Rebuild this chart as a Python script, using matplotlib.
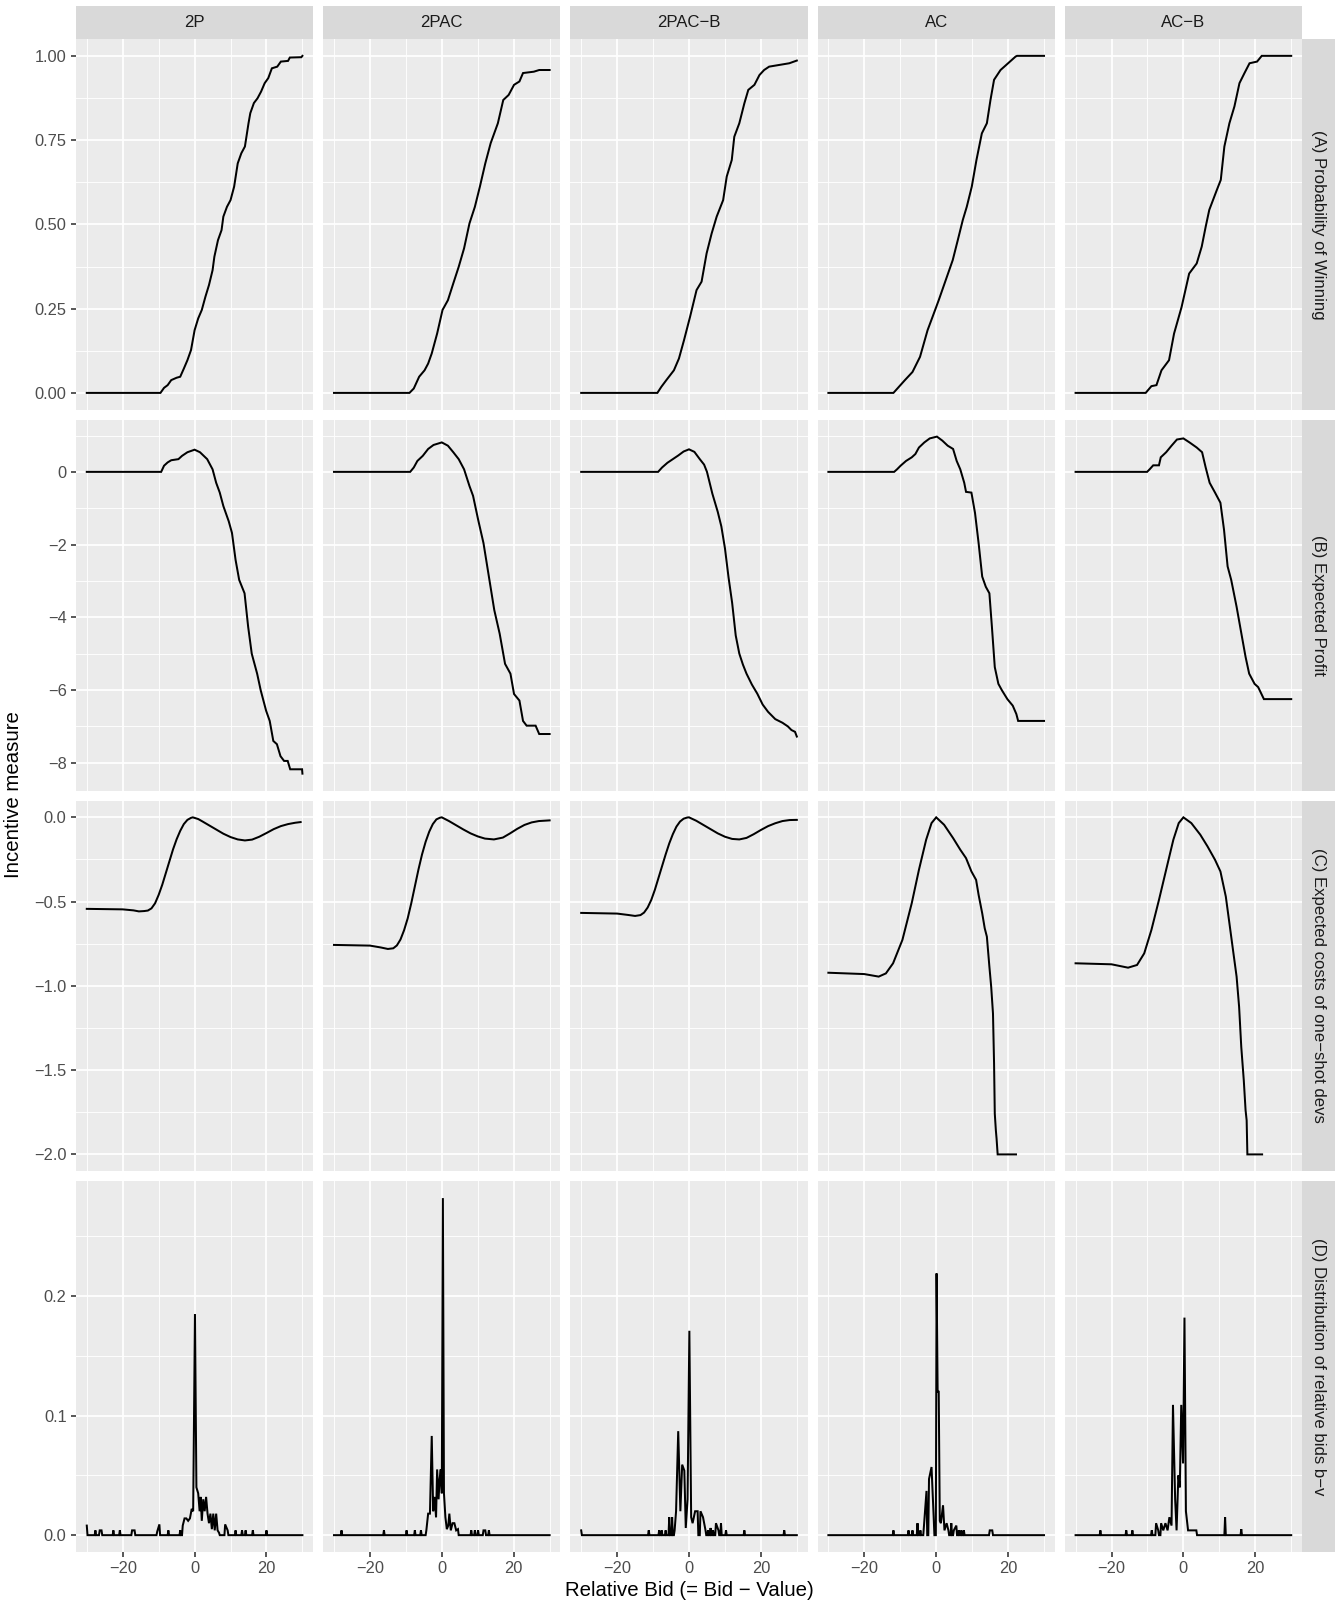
import numpy as np
import matplotlib
matplotlib.use('Agg')
import matplotlib.pyplot as plt
from matplotlib.ticker import FixedLocator, FuncFormatter

plt.rcParams['font.family'] = ['Liberation Sans', 'DejaVu Sans']

mechanisms = ['2P', '2PAC', '2PAC\u2212B', 'AC', 'AC\u2212B']
measures = ['(A) Probability of Winning', '(B) Expected Profit',
            '(C) Expected costs of one\u2212shot devs',
            '(D) Distribution of relative bids b\u2212v']

# (A) probability of winning
a_2p_x = [-30, -9.5, -8.5, -7.5, -6.5, -5, -4, -3, -2, -1, 0, 1, 2, 3, 4, 5, 5.5, 6.5, 7.5, 8,
          9, 10, 11, 12, 13, 14, 15, 15.5, 16.5, 17.5, 18.5, 19.5, 20.5, 21.5, 23, 24, 26, 26.5, 29.7, 30]
a_2p_y = [0, 0, 0.015, 0.023, 0.038, 0.045, 0.048, 0.072, 0.097, 0.127, 0.186, 0.221, 0.246, 0.285,
          0.32, 0.364, 0.404, 0.453, 0.483, 0.523, 0.552, 0.572, 0.612, 0.681, 0.711, 0.731, 0.80, 0.83,
          0.86, 0.874, 0.894, 0.919, 0.934, 0.963, 0.968, 0.983, 0.985, 0.995, 0.996, 1.0]
a_2pac_x = [-30, -9.0, -7.8, -6.3, -4.8, -3.8, -2.8, -1.3, 0.2, 1.7, 3.2, 4.7, 6.2, 7.7, 9.2, 10.6,
            12.1, 13.6, 15.6, 17.1, 18.6, 20.1, 21.6, 22.6, 25.6, 27.1, 30]
a_2pac_y = [0, 0, 0.013, 0.048, 0.067, 0.087, 0.117, 0.176, 0.246, 0.275, 0.325, 0.374, 0.429, 0.503,
            0.552, 0.612, 0.681, 0.741, 0.80, 0.869, 0.884, 0.914, 0.924, 0.949, 0.953, 0.958, 0.958]
a_2pacb_x = [-30, -8.8, -7.7, -6.3, -4.2, -2.8, -1.4, 0.3, 2.1, 3.5, 4.9, 6.3, 7.7, 9.5, 10.5, 11.9,
             12.6, 14.0, 15.4, 16.5, 18.2, 19.6, 20.9, 22.3, 25.1, 27.9, 30]
a_2pacb_y = [0, 0, 0.018, 0.038, 0.067, 0.102, 0.156, 0.226, 0.305, 0.33, 0.414, 0.473, 0.523, 0.572,
             0.642, 0.691, 0.760, 0.80, 0.859, 0.899, 0.914, 0.943, 0.958, 0.968, 0.973, 0.978, 0.986]
a_ac_x = [-30, -11.9, -10.8, -8.7, -6.6, -4.5, -2.4, -1.0, 0.7, 2.5, 4.6, 6.0, 7.4, 8.5, 9.9, 11.2,
          12.7, 14.1, 15.1, 16.1, 17.9, 20.0, 22.1, 22.5, 30]
a_ac_y = [0, 0, 0.013, 0.038, 0.062, 0.107, 0.186, 0.226, 0.275, 0.33, 0.394, 0.453, 0.513, 0.552,
          0.612, 0.691, 0.770, 0.80, 0.869, 0.929, 0.958, 0.978, 0.998, 1.0, 1.0]
a_acb_x = [-30, -10.5, -8.9, -7.5, -6.1, -4.0, -2.6, -0.5, 1.6, 3.7, 5.1, 6.2, 7.2, 9.3, 10.4, 11.4,
           12.8, 14.2, 15.6, 17.0, 18.4, 20.5, 21.8, 30]
a_acb_y = [0, 0, 0.02, 0.023, 0.067, 0.097, 0.176, 0.255, 0.354, 0.384, 0.434, 0.493, 0.543, 0.602,
           0.632, 0.731, 0.80, 0.850, 0.919, 0.949, 0.978, 0.983, 1.0, 1.0]

# (B) expected profit
b_2p_x = [-30, -9.3, -8.5, -7.5, -6.5, -4.5, -3.5, -2.0, 0, 1.5, 3.5, 5.0, 6.0, 7.0, 8.0, 9.5, 10.4,
          11.4, 12.4, 13.9, 14.9, 15.9, 17.4, 18.4, 19.9, 20.9, 21.9, 22.9, 23.9, 24.9, 25.9, 26.6, 29.9, 30]
b_2p_y = [0, 0, 0.17, 0.26, 0.32, 0.35, 0.44, 0.54, 0.61, 0.54, 0.35, 0.07, -0.30, -0.57, -0.94, -1.36,
          -1.68, -2.42, -2.97, -3.34, -4.26, -5.0, -5.55, -6.01, -6.57, -6.85, -7.40, -7.49, -7.82, -7.95,
          -7.95, -8.18, -8.18, -8.30]
b_2pac_x = [-30, -8.8, -7.8, -6.8, -5.3, -3.8, -2.3, 0, 1.7, 3.2, 4.7, 6.2, 7.7, 8.7, 10.1, 11.6, 13.1,
            14.6, 16.1, 17.6, 19.1, 20.1, 21.6, 22.6, 23.6, 26.1, 27.1, 30]
b_2pac_y = [0, 0, 0.12, 0.30, 0.44, 0.63, 0.74, 0.81, 0.72, 0.54, 0.35, 0.07, -0.39, -0.66, -1.31, -1.96,
            -2.88, -3.80, -4.45, -5.28, -5.55, -6.11, -6.29, -6.85, -6.98, -6.98, -7.21, -7.21]
b_2pacb_x = [-30, -8.6, -7.5, -6.0, -4.5, -3.0, -1.5, 0, 1.5, 3.0, 4.2, 5.0, 6.5, 8.0, 9.0, 10.0, 11.0,
             12.0, 13.0, 14.0, 15.0, 16.0, 17.5, 19.0, 20.5, 22.0, 24.0, 26.0, 27.5, 28.5, 29.5, 30]
b_2pacb_y = [0, 0, 0.12, 0.25, 0.35, 0.45, 0.56, 0.62, 0.55, 0.35, 0.2, 0.0, -0.6, -1.1, -1.5, -2.1, -2.9,
             -3.6, -4.5, -5.0, -5.3, -5.55, -5.85, -6.1, -6.4, -6.6, -6.8, -6.9, -7.0, -7.1, -7.15, -7.28]
b_ac_x = [-30, -11.7, -10.9, -9.9, -8.4, -6.8, -5.8, -4.8, -3.3, -1.8, 0.2, 1.7, 3.2, 4.7, 5.7, 6.7, 7.8,
          8.3, 9.8, 10.8, 11.8, 12.8, 13.8, 14.8, 15.5, 16.3, 17.3, 18.3, 19.8, 21.3, 22.3, 22.8, 30]
b_ac_y = [0, 0, 0.07, 0.17, 0.30, 0.40, 0.49, 0.67, 0.81, 0.92, 0.97, 0.86, 0.72, 0.63, 0.30, 0.07, -0.30,
          -0.55, -0.57, -1.13, -1.96, -2.88, -3.16, -3.34, -4.26, -5.37, -5.83, -6.01, -6.25, -6.43, -6.66,
          -6.85, -6.85]
b_acb_x = [-30, -10.1, -9.4, -8.4, -6.8, -6.3, -4.8, -3.3, -1.8, 0, 1.7, 3.7, 5.2, 6.2, 7.3, 8.8, 10.3,
           11.3, 12.3, 13.3, 14.8, 16.3, 17.3, 18.3, 19.8, 20.8, 22.4, 30]
b_acb_y = [0, 0, 0.07, 0.18, 0.18, 0.40, 0.54, 0.72, 0.89, 0.92, 0.81, 0.67, 0.54, 0.12, -0.30, -0.57,
           -0.85, -1.59, -2.60, -2.97, -3.71, -4.54, -5.09, -5.55, -5.83, -5.92, -6.25, -6.25]

# (C) expected costs of one-shot deviations
c_2p_x = [-30, -20, -17, -15.5, -14, -13, -12, -11, -10, -9, -8, -7, -6, -5, -4, -3, -2, -1, -0.5, 1,
          2, 4, 6, 8, 10, 12, 14, 16, 18, 20, 22, 24, 26, 28, 29.5]
c_2p_y = [-0.543, -0.546, -0.552, -0.558, -0.556, -0.553, -0.54, -0.51, -0.46, -0.40, -0.33, -0.26, -0.19,
          -0.13, -0.08, -0.04, -0.015, -0.003, 0.0, -0.01, -0.022, -0.047, -0.072, -0.097, -0.117, -0.131,
          -0.137, -0.132, -0.115, -0.093, -0.07, -0.052, -0.04, -0.032, -0.028]
c_2pac_x = [-30, -20, -17, -15, -13.5, -12.5, -11.5, -10.5, -9.5, -8.5, -7.5, -6.5, -5.5, -4.5, -3.5, -2.5,
            -1.5, -0.5, 0, 2, 4, 6, 8, 10, 12, 14.5, 17, 19, 21, 23, 25, 27, 30]
c_2pac_y = [-0.757, -0.761, -0.772, -0.781, -0.777, -0.76, -0.725, -0.67, -0.60, -0.51, -0.41, -0.31, -0.22,
            -0.145, -0.085, -0.04, -0.012, -0.002, 0.0, -0.022, -0.047, -0.072, -0.095, -0.113, -0.126,
            -0.131, -0.12, -0.095, -0.068, -0.045, -0.03, -0.022, -0.018]
c_2pacb_x = [-30, -20, -17, -15, -13.5, -12.5, -11.5, -10.5, -9.5, -8.5, -7.5, -6.5, -5.5, -4.5, -3.5, -2.5,
             -1.5, -0.5, 0, 2, 4, 6, 8, 10, 12, 14, 16, 18, 20, 22, 24, 26, 28, 30]
c_2pacb_y = [-0.567, -0.571, -0.579, -0.585, -0.58, -0.565, -0.535, -0.49, -0.43, -0.36, -0.29, -0.22,
             -0.155, -0.1, -0.055, -0.025, -0.008, -0.001, 0.0, -0.02, -0.045, -0.07, -0.095, -0.115,
             -0.128, -0.131, -0.122, -0.1, -0.075, -0.052, -0.035, -0.022, -0.016, -0.015]
c_ac_x = [-30, -20, -16, -14, -12, -9.4, -6.8, -4.8, -2.8, -1.3, 0, 2.2, 4.7, 6.7, 8.3, 9.8, 11.1, 11.8,
          12.8, 13.5, 14.1, 14.8, 15.3, 15.8, 16.1, 16.3, 16.6, 16.8, 17.1, 22.2]
c_ac_y = [-0.922, -0.930, -0.945, -0.926, -0.866, -0.727, -0.509, -0.311, -0.133, -0.034, 0.0, -0.044,
          -0.123, -0.192, -0.242, -0.321, -0.371, -0.46, -0.569, -0.658, -0.708, -0.886, -1.005, -1.164,
          -1.46, -1.758, -1.857, -1.907, -2.0, -2.0]
c_acb_x = [-30, -20, -15.4, -12.9, -10.9, -8.9, -6.8, -4.8, -2.8, -1.3, 0, 2.2, 4.7, 6.7, 8.8, 10.3, 11.8,
           12.8, 13.8, 14.8, 15.5, 16.1, 16.8, 17.3, 17.6, 17.8, 21.9]
c_acb_y = [-0.866, -0.872, -0.892, -0.876, -0.807, -0.668, -0.49, -0.311, -0.133, -0.034, 0.0, -0.034,
           -0.103, -0.172, -0.252, -0.321, -0.47, -0.628, -0.787, -0.945, -1.124, -1.362, -1.56, -1.738,
           -1.798, -2.0, -2.0]

# (D) distribution of relative bids: only the non-zero bins
d_2p_x = [-30, -27.6, -26.4, -25.9, -22.6, -20.8, -17.4, -16.7, -10.4, -9.8, -7.3, -4.0, -3.3, -2.8, -2.3,
          -1.8, -1.3, -0.8, -0.4, 0.1, 0.5, 1.0, 1.4, 1.7, 2.0, 2.4, 2.8, 3.2, 3.6, 4.0, 4.4, 4.8, 5.2, 5.6,
          6.0, 6.4, 6.8, 8.5, 9.2, 11.4, 13.2, 14.2, 16.2, 20.0]
d_2p_y = [0.008, 0.004, 0.004, 0.004, 0.004, 0.004, 0.004, 0.004, 0.003, 0.009, 0.004, 0.004, 0.008, 0.014,
          0.014, 0.012, 0.014, 0.022, 0.02, 0.185, 0.04, 0.035, 0.02, 0.032, 0.012, 0.03, 0.02, 0.032, 0.018,
          0.01, 0.018, 0.005, 0.018, 0.004, 0.018, 0.004, 0.002, 0.009, 0.004, 0.004, 0.004, 0.004, 0.004,
          0.004]
d_2pac_x = [-27.9, -16.1, -9.8, -7.5, -5.8, -4.3, -3.8, -3.3, -2.8, -2.4, -2.0, -1.6, -1.3, -0.9, -0.6,
            -0.3, 0.0, 0.3, 0.6, 1.0, 1.4, 1.8, 2.1, 2.5, 3.0, 3.5, 4.0, 4.5, 8.2, 9.2, 10.1, 11.6, 12.1, 13.1]
d_2pac_y = [0.004, 0.004, 0.004, 0.004, 0.004, 0.004, 0.018, 0.018, 0.083, 0.02, 0.032, 0.015, 0.055, 0.03,
            0.047, 0.055, 0.035, 0.282, 0.035, 0.015, 0.005, 0.008, 0.018, 0.004, 0.01, 0.01, 0.004, 0.005,
            0.004, 0.004, 0.004, 0.004, 0.004, 0.004]
d_2pacb_x = [-30, -11.2, -8.3, -7.6, -6.5, -5.5, -4.7, -4.0, -3.6, -3.0, -2.4, -1.9, -1.3, -0.9, -0.4, 0.1,
             0.6, 1.0, 1.7, 2.4, 3.2, 3.9, 4.6, 5.3, 6.0, 6.7, 7.5, 8.2, 8.9, 10.3, 15.4, 26.5]
d_2pacb_y = [0.004, 0.004, 0.004, 0.004, 0.004, 0.015, 0.015, 0.004, 0.02, 0.087, 0.02, 0.059, 0.054, 0.006,
             0.03, 0.171, 0.015, 0.01, 0.02, 0.02, 0.02, 0.015, 0.004, 0.004, 0.006, 0.004, 0.01, 0.004,
             0.01, 0.004, 0.004, 0.004]
d_ac_x = [-11.9, -7.7, -6.6, -5.2, -4.4, -3.4, -2.7, -2.0, -1.3, -0.7, 0.1, 0.4, 0.7, 1.0, 1.3, 1.9, 2.3,
          2.9, 3.4, 4.2, 4.9, 5.6, 6.3, 7.0, 7.7, 14.9, 15.6]
d_ac_y = [0.004, 0.004, 0.004, 0.01, 0.004, 0.008, 0.037, 0.047, 0.057, 0.015, 0.219, 0.12, 0.12, 0.012,
          0.01, 0.025, 0.004, 0.01, 0.004, 0.01, 0.004, 0.008, 0.004, 0.004, 0.004, 0.004, 0.004]
d_acb_x = [-23.1, -15.9, -14.2, -8.8, -7.6, -7.0, -6.2, -5.6, -5.0, -4.4, -3.9, -3.3, -2.9, -2.3, -1.9,
           -1.4, -1.0, -0.6, -0.1, 0.3, 0.7, 1.3, 1.9, 2.4, 3.0, 3.6, 11.6, 16.1]
d_acb_y = [0.004, 0.004, 0.004, 0.004, 0.01, 0.004, 0.01, 0.004, 0.01, 0.004, 0.015, 0.008, 0.109, 0.03,
           0.004, 0.05, 0.04, 0.109, 0.06, 0.182, 0.02, 0.004, 0.004, 0.004, 0.004, 0.004, 0.015, 0.005]


def on_zero_line(xs, ys, lo=-30, hi=30, half=0.2, gap=0.7):
    # the density is zero between the listed bins
    px, py = [], []
    if xs[0] > lo:
        px.append(lo); py.append(0)
    for i, (x, y) in enumerate(zip(xs, ys)):
        prev = xs[i - 1] if i > 0 else lo
        if x - prev > gap:
            px.append(x - half); py.append(0)
        px.append(x); py.append(y)
        nxt = xs[i + 1] if i + 1 < len(xs) else hi
        if nxt - x > gap:
            px.append(x + half); py.append(0)
    if xs[-1] < hi:
        px.append(hi); py.append(0)
    return px, py


series = [
    [(a_2p_x, a_2p_y), (a_2pac_x, a_2pac_y), (a_2pacb_x, a_2pacb_y), (a_ac_x, a_ac_y), (a_acb_x, a_acb_y)],
    [(b_2p_x, b_2p_y), (b_2pac_x, b_2pac_y), (b_2pacb_x, b_2pacb_y), (b_ac_x, b_ac_y), (b_acb_x, b_acb_y)],
    [(c_2p_x, c_2p_y), (c_2pac_x, c_2pac_y), (c_2pacb_x, c_2pacb_y), (c_ac_x, c_ac_y), (c_acb_x, c_acb_y)],
    [on_zero_line(d_2p_x, d_2p_y), on_zero_line(d_2pac_x, d_2pac_y), on_zero_line(d_2pacb_x, d_2pacb_y),
     on_zero_line(d_ac_x, d_ac_y), on_zero_line(d_acb_x, d_acb_y)],
]

y_major = [[0, 0.25, 0.5, 0.75, 1.0], [-8, -6, -4, -2, 0], [-2.0, -1.5, -1.0, -0.5, 0.0], [0, 0.1, 0.2]]
y_minor = [[0.125, 0.375, 0.625, 0.875], [-7, -5, -3, -1, 1], [-1.75, -1.25, -0.75, -0.25], [0.05, 0.15, 0.25]]
y_fmt = ['%.2f', '%d', '%.1f', '%.1f']

W, H, DPI = 1341, 1606, 144
fig = plt.figure(figsize=(W / DPI, H / DPI), dpi=DPI)
gs = fig.add_gridspec(4, 5, left=76 / W, right=1302 / W, top=1 - 39 / H, bottom=1 - 1552 / H,
                      wspace=10 / 237.2, hspace=10 / 370.75)

PANEL = '#EBEBEB'
STRIP = '#D9D9D9'

axes = np.empty((4, 5), dtype=object)
for r in range(4):
    for c in range(5):
        kw = {}
        if r or c:
            kw['sharex'] = axes[0, 0]
        if c:
            kw['sharey'] = axes[r, 0]
        ax = fig.add_subplot(gs[r, c], **kw)
        axes[r, c] = ax
        x, y = series[r][c]
        ax.plot(x, y, color='black', lw=1.0, solid_joinstyle='miter')
        ax.set_facecolor(PANEL)
        for s in ax.spines.values():
            s.set_visible(False)
        ax.grid(which='major', color='white', lw=0.85)
        ax.grid(which='minor', color='white', lw=0.45)
        ax.set_axisbelow(True)
        ax.tick_params(which='major', length=2.5, width=0.8, color='#333333',
                       labelsize=8.2, labelcolor='#4D4D4D', pad=2.2)
        ax.tick_params(which='minor', length=0)
        if c > 0:
            ax.tick_params(left=False, labelleft=False)
        if r < 3:
            ax.tick_params(bottom=False, labelbottom=False)

ax0 = axes[0, 0]
ax0.xaxis.set_major_locator(FixedLocator([-20, 0, 20]))
ax0.xaxis.set_minor_locator(FixedLocator([-30, -10, 10, 30]))
ax0.xaxis.set_major_formatter(FuncFormatter(lambda v, p: ('%d' % v).replace('-', '\u2212')))
ax0.margins(x=0.05)

for r in range(4):
    ax = axes[r, 0]
    ax.yaxis.set_major_locator(FixedLocator(y_major[r]))
    ax.yaxis.set_minor_locator(FixedLocator(y_minor[r]))
    ax.yaxis.set_major_formatter(FuncFormatter(lambda v, p, f=y_fmt[r]: (f % v).replace('-', '\u2212')))
    ax.margins(y=0.05)
    ax.autoscale_view()

# facet strips
for c in range(5):
    pos = axes[0, c].get_position()
    sax = fig.add_axes([pos.x0, pos.y1, pos.width, 33 / H])
    sax.set_facecolor(STRIP)
    sax.set_xticks([]); sax.set_yticks([])
    for s in sax.spines.values():
        s.set_visible(False)
    sax.text(0.5, 0.5, mechanisms[c], ha='center', va='center', fontsize=8.4, color='#1A1A1A',
             transform=sax.transAxes)

for r in range(4):
    pos = axes[r, 4].get_position()
    sax = fig.add_axes([pos.x1, pos.y0, 33 / W, pos.height])
    sax.set_facecolor(STRIP)
    sax.set_xticks([]); sax.set_yticks([])
    for s in sax.spines.values():
        s.set_visible(False)
    sax.text(0.5, 0.5, measures[r], ha='center', va='center', rotation=-90, fontsize=8.4,
             color='#1A1A1A', transform=sax.transAxes)

fig.text(689 / W, 1 - 1590 / H, 'Relative Bid (= Bid \u2212 Value)', ha='center', va='center', fontsize=10.2)
fig.text(14 / W, 1 - 795 / H, 'Incentive measure', ha='center', va='center', rotation=90, fontsize=10.2)

fig.savefig('out.png', dpi=DPI, facecolor='white')
